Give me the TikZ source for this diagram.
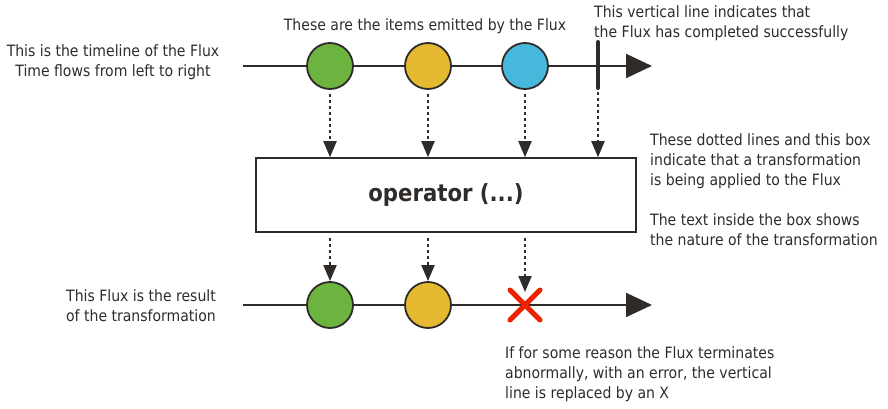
\documentclass[tikz,border=0pt]{standalone}
\usepackage{fontspec}
\setmainfont{DejaVu Sans Condensed}
\usetikzlibrary{arrows.meta,calc}
\definecolor{ink}{HTML}{2F2B28}
\definecolor{cgreen}{HTML}{6DB33F}
\definecolor{cyellow}{HTML}{E6B933}
\definecolor{cblue}{HTML}{45B8DC}
\definecolor{cred}{HTML}{EE2200}
\tikzset{
  x=1pt,y=-1pt,
  timeline/.style={draw=ink,line width=2pt,-{Triangle[length=26pt,width=24pt]}},
  item/.style={circle,draw=ink,line width=1.8pt,minimum size=46pt,inner sep=0pt},
  dotarrow/.style={draw=ink,line width=2pt,dash pattern=on 3pt off 3pt,-{Triangle[length=16pt,width=13pt]},shorten >=0pt},
  note/.style={font=\fontsize{15.6}{20}\selectfont,text=ink,inner sep=0pt},
  opbox/.style={draw=ink,line width=1.6pt,fill=white,minimum width=380pt,minimum height=74pt,inner sep=0pt},
}
\begin{document}
\begin{tikzpicture}
\useasboundingbox (0,0) rectangle (888,409);
% top timeline
\coordinate (t0) at (243,66);
\coordinate (t1) at (652,66);
\draw[timeline] (t0) -- (t1);
\node[item,fill=cgreen] (a1) at (330,66) {};
\node[item,fill=cyellow] (a2) at (428,66) {};
\node[item,fill=cblue] (a3) at (525,66) {};
\coordinate (c1) at (598,42);
\coordinate (c2) at (598,88);
\draw[ink,line width=4pt,line cap=round] (c1) -- (c2);
% operator box
\node[opbox] (op) at (446,195) {\fontsize{23.6}{27}\selectfont\bfseries\color{ink}operator (...)};
% dotted arrows top
\draw[dotarrow] (a1.south) ++(0,4) -- (a1.south |- op.north);
\draw[dotarrow] (a2.south) ++(0,4) -- (a2.south |- op.north);
\draw[dotarrow] (a3.south) ++(0,4) -- (a3.south |- op.north);
\draw[dotarrow] (c2) ++(0,4) -- (c2 |- op.north);
% bottom timeline
\coordinate (b0) at (243,305);
\coordinate (b1) at (652,305);
\draw[timeline] (b0) -- (b1);
\node[item,fill=cgreen] (r1) at (330,305) {};
\node[item,fill=cyellow] (r2) at (428,305) {};
\coordinate (x) at (525,305);
\draw[cred,line width=5pt,line cap=round] ($(x)+(-15,-15)$) -- ($(x)+(15,15)$);
\draw[cred,line width=5pt,line cap=round] ($(x)+(-15,15)$) -- ($(x)+(15,-15)$);
\draw[dotarrow] (op.south -| r1) ++(0,5) -- (r1.north);
\draw[dotarrow] (op.south -| r2) ++(0,5) -- (r2.north);
\draw[dotarrow] (op.south -| x) ++(0,5) -- ($(x)+(0,-13)$);
% notes
\node[note,align=center] (n1) at (113,62) {This is the timeline of the Flux\\Time flows from left to right};
\node[note] (n2) at (425,26) {These are the items emitted by the Flux};
\node[note,align=left,anchor=west] (n3) at (594,23) {This vertical line indicates that\\the Flux has completed successfully};
\node[note,align=left,anchor=north west] (n4) at (650,133) {These dotted lines and this box\\indicate that a transformation\\is being applied to the Flux\\[20pt]The text inside the box shows\\the nature of the transformation};
\node[note,align=center] (n5) at (141,306) {This Flux is the result\\of the transformation};
\node[note,align=left,anchor=north west] (n6) at (505,346) {If for some reason the Flux terminates\\abnormally, with an error, the vertical\\line is replaced by an X};
\end{tikzpicture}
\end{document}
